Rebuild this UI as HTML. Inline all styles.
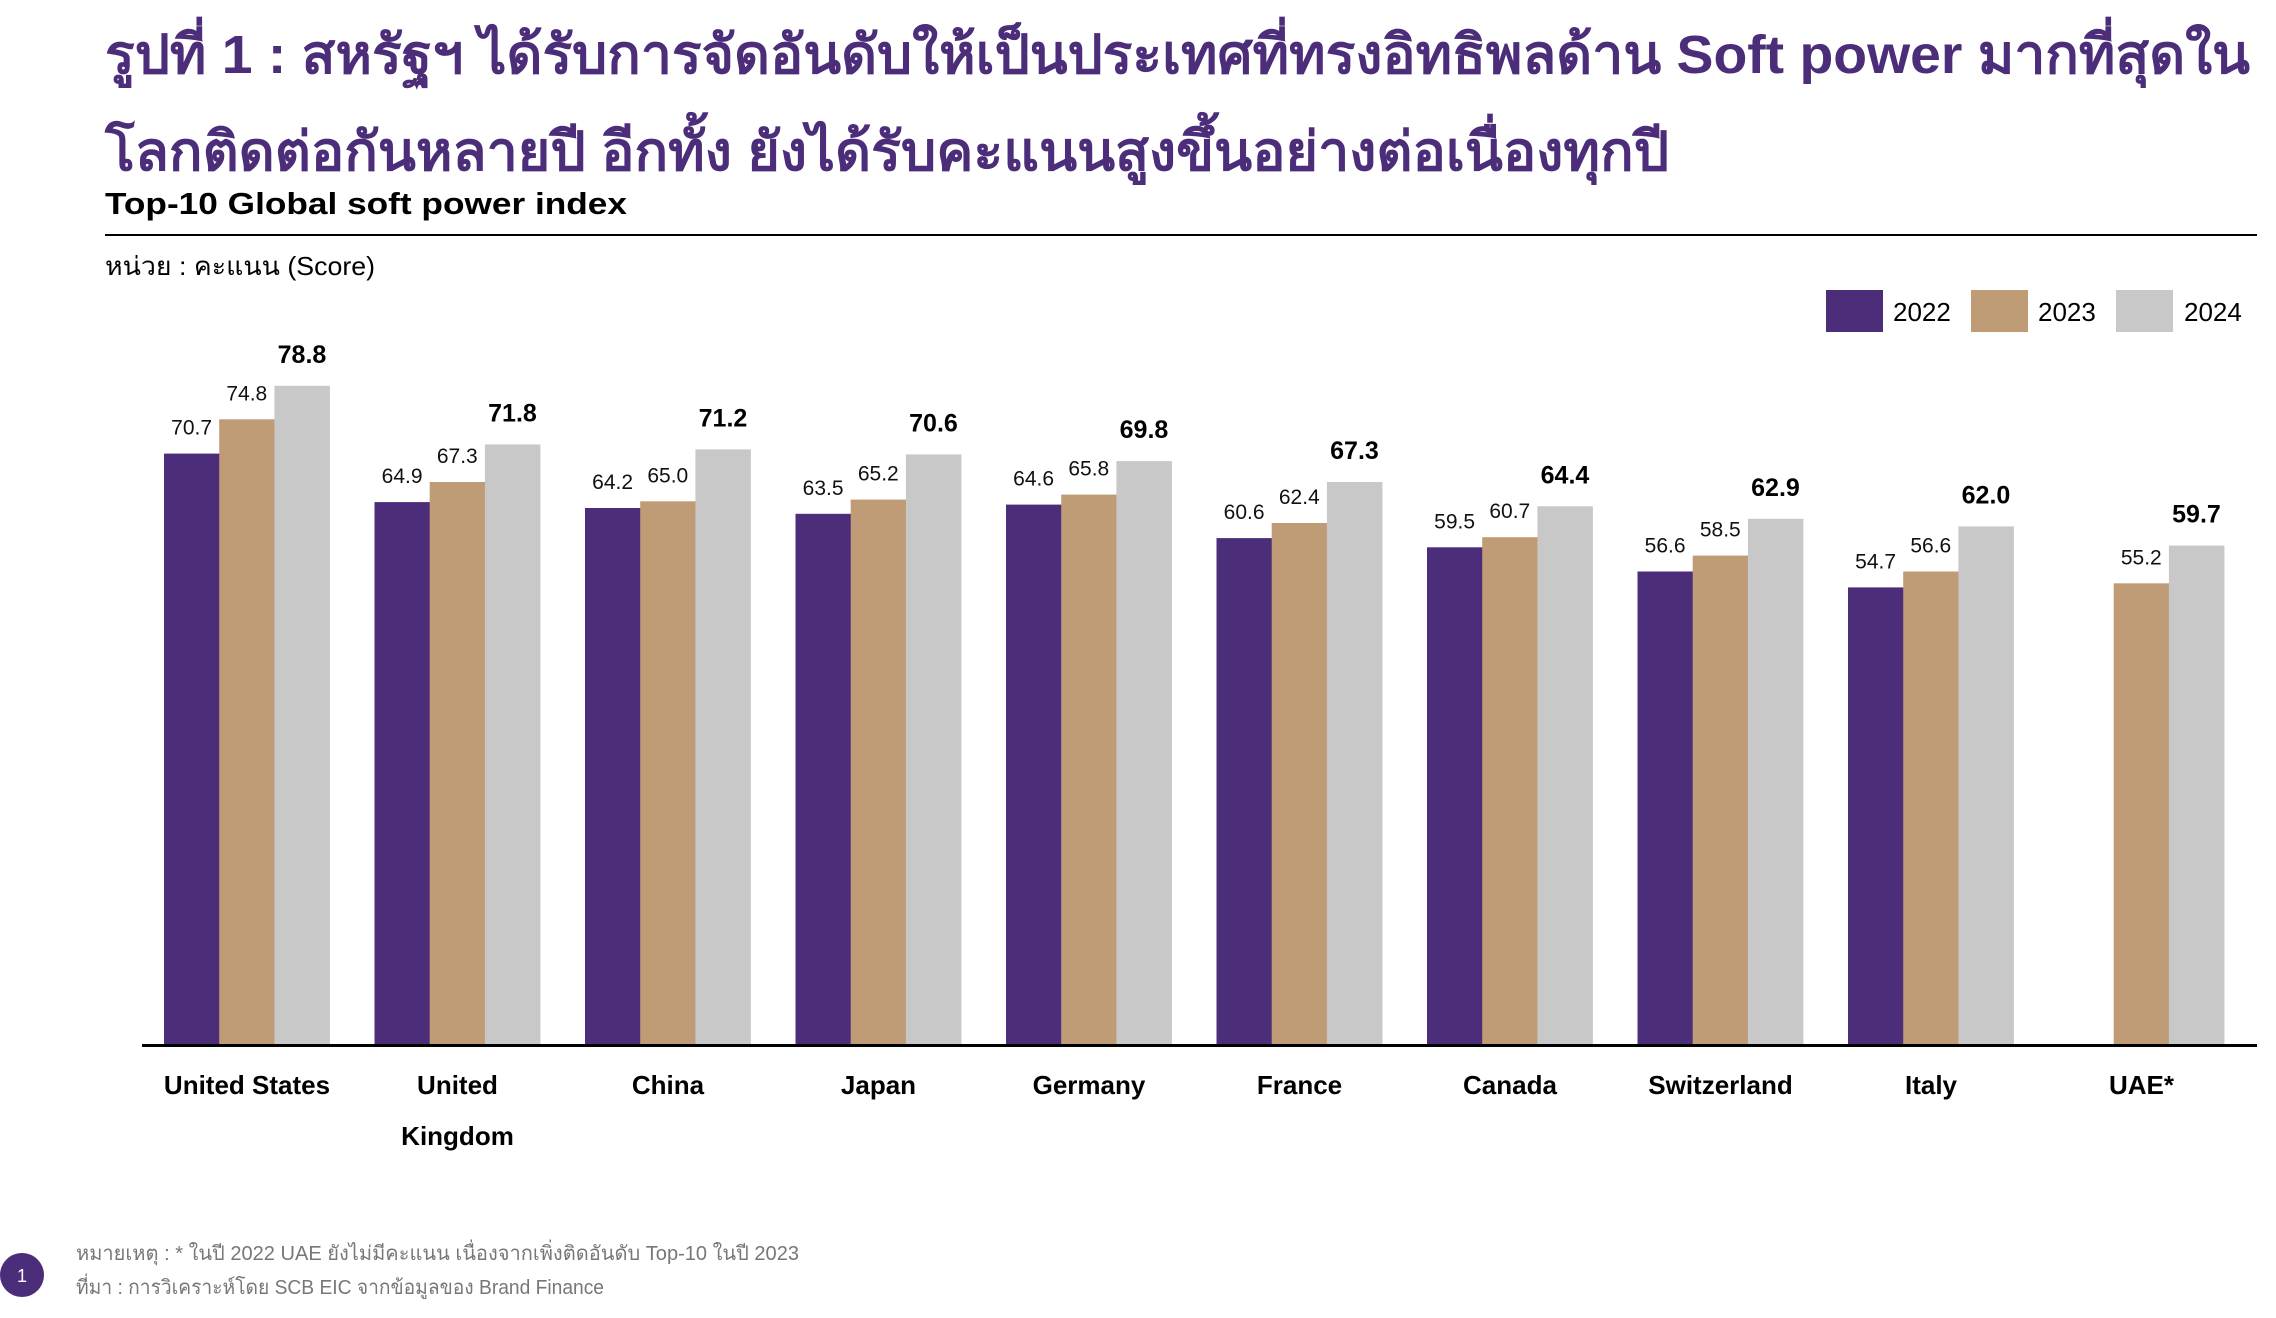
<!DOCTYPE html>
<html><head><meta charset="utf-8"><style>
html,body{margin:0;padding:0;background:#fff}
svg{display:block}
text{font-family:"Liberation Sans","DejaVu Sans","Noto Sans CJK SC",sans-serif}
.v{font-size:21px;fill:#111;text-anchor:middle}
.b{font-size:25px;font-weight:bold;fill:#000;text-anchor:middle}
.c{font-size:26px;font-weight:bold;fill:#000;text-anchor:middle}
</style></head><body>
<svg width="2276" height="1318" viewBox="0 0 2276 1318" xmlns="http://www.w3.org/2000/svg">
<text x="105" y="73" font-size="54" font-weight="bold" fill="#4B2D7A" textLength="2145" lengthAdjust="spacingAndGlyphs">รูปที่ 1 : สหรัฐฯ ได้รับการจัดอันดับให้เป็นประเทศที่ทรงอิทธิพลด้าน Soft power มากที่สุดใน</text>
<text x="105" y="170" font-size="54" font-weight="bold" fill="#4B2D7A" textLength="1564" lengthAdjust="spacingAndGlyphs">โลกติดต่อกันหลายปี อีกทั้ง ยังได้รับคะแนนสูงขึ้นอย่างต่อเนื่องทุกปี</text>
<text x="105" y="214" font-size="31" font-weight="bold" fill="#000" textLength="522" lengthAdjust="spacingAndGlyphs">Top-10 Global soft power index</text>
<rect x="105" y="234" width="2152" height="2" fill="#000"/>
<text x="105" y="275" font-size="26" fill="#000" textLength="270" lengthAdjust="spacingAndGlyphs">หน่วย : คะแนน (Score)</text>
<rect x="1826" y="290" width="57" height="42" fill="#4B2D7A"/><text x="1893" y="321" font-size="26" fill="#000">2022</text>
<rect x="1971" y="290" width="57" height="42" fill="#BF9B76"/><text x="2038" y="321" font-size="26" fill="#000">2023</text>
<rect x="2116" y="290" width="57" height="42" fill="#C8C8C8"/><text x="2184" y="321" font-size="26" fill="#000">2024</text>
<g>
<rect x="164" y="453.6" width="55.5" height="591.4" fill="#4B2D7A"/><rect x="219.2" y="419.3" width="55.5" height="625.7" fill="#BF9B76"/><rect x="274.4" y="385.8" width="55.5" height="659.2" fill="#C8C8C8"/>
<text class="v" x="191.6" y="434.6">70.7</text><text class="v" x="246.8" y="400.3">74.8</text><text class="b" x="302" y="362.8">78.8</text>
<rect x="374.5" y="502.1" width="55.5" height="542.9" fill="#4B2D7A"/><rect x="429.7" y="482" width="55.5" height="563" fill="#BF9B76"/><rect x="484.9" y="444.4" width="55.5" height="600.6" fill="#C8C8C8"/>
<text class="v" x="402.1" y="483.1">64.9</text><text class="v" x="457.3" y="463">67.3</text><text class="b" x="512.5" y="421.4">71.8</text>
<rect x="585" y="508" width="55.5" height="537" fill="#4B2D7A"/><rect x="640.2" y="501.3" width="55.5" height="543.7" fill="#BF9B76"/><rect x="695.4" y="449.4" width="55.5" height="595.6" fill="#C8C8C8"/>
<text class="v" x="612.6" y="489">64.2</text><text class="v" x="667.8" y="482.3">65.0</text><text class="b" x="723" y="426.4">71.2</text>
<rect x="795.5" y="513.8" width="55.5" height="531.2" fill="#4B2D7A"/><rect x="850.7" y="499.6" width="55.5" height="545.4" fill="#BF9B76"/><rect x="905.9" y="454.4" width="55.5" height="590.6" fill="#C8C8C8"/>
<text class="v" x="823.1" y="494.8">63.5</text><text class="v" x="878.3" y="480.6">65.2</text><text class="b" x="933.5" y="431.4">70.6</text>
<rect x="1006" y="504.6" width="55.5" height="540.4" fill="#4B2D7A"/><rect x="1061.2" y="494.6" width="55.5" height="550.4" fill="#BF9B76"/><rect x="1116.4" y="461.1" width="55.5" height="583.9" fill="#C8C8C8"/>
<text class="v" x="1033.6" y="485.6">64.6</text><text class="v" x="1088.8" y="475.6">65.8</text><text class="b" x="1144" y="438.1">69.8</text>
<rect x="1216.5" y="538.1" width="55.5" height="506.9" fill="#4B2D7A"/><rect x="1271.7" y="523" width="55.5" height="522" fill="#BF9B76"/><rect x="1326.9" y="482" width="55.5" height="563" fill="#C8C8C8"/>
<text class="v" x="1244.1" y="519.1">60.6</text><text class="v" x="1299.3" y="504">62.4</text><text class="b" x="1354.5" y="459">67.3</text>
<rect x="1427" y="547.3" width="55.5" height="497.7" fill="#4B2D7A"/><rect x="1482.2" y="537.2" width="55.5" height="507.8" fill="#BF9B76"/><rect x="1537.4" y="506.3" width="55.5" height="538.7" fill="#C8C8C8"/>
<text class="v" x="1454.6" y="528.3">59.5</text><text class="v" x="1509.8" y="518.2">60.7</text><text class="b" x="1565" y="483.3">64.4</text>
<rect x="1637.5" y="571.5" width="55.5" height="473.5" fill="#4B2D7A"/><rect x="1692.7" y="555.6" width="55.5" height="489.4" fill="#BF9B76"/><rect x="1747.9" y="518.8" width="55.5" height="526.2" fill="#C8C8C8"/>
<text class="v" x="1665.1" y="552.5">56.6</text><text class="v" x="1720.3" y="536.6">58.5</text><text class="b" x="1775.5" y="495.8">62.9</text>
<rect x="1848" y="587.4" width="55.5" height="457.6" fill="#4B2D7A"/><rect x="1903.2" y="571.5" width="55.5" height="473.5" fill="#BF9B76"/><rect x="1958.4" y="526.4" width="55.5" height="518.6" fill="#C8C8C8"/>
<text class="v" x="1875.6" y="568.4">54.7</text><text class="v" x="1930.8" y="552.5">56.6</text><text class="b" x="1986" y="503.4">62.0</text>
<rect x="2113.7" y="583.3" width="55.5" height="461.7" fill="#BF9B76"/><rect x="2168.9" y="545.6" width="55.5" height="499.4" fill="#C8C8C8"/>
<text class="v" x="2141.3" y="564.3">55.2</text><text class="b" x="2196.5" y="522.6">59.7</text>
</g>
<rect x="142" y="1044" width="2115" height="3" fill="#000"/>
<text class="c" x="247" y="1094">United States</text>
<text class="c" x="457.5" y="1094">United</text><text class="c" x="457.5" y="1145">Kingdom</text>
<text class="c" x="668" y="1094">China</text>
<text class="c" x="878.5" y="1094">Japan</text>
<text class="c" x="1089" y="1094">Germany</text>
<text class="c" x="1299.5" y="1094">France</text>
<text class="c" x="1510" y="1094">Canada</text>
<text class="c" x="1720.5" y="1094">Switzerland</text>
<text class="c" x="1931" y="1094">Italy</text>
<text class="c" x="2141.5" y="1094">UAE*</text>
<circle cx="22" cy="1275" r="22" fill="#4B2D7A"/>
<text x="22" y="1282" font-size="18" fill="#fff" text-anchor="middle">1</text>
<text x="76" y="1260" font-size="20" fill="#777" textLength="723" lengthAdjust="spacingAndGlyphs">หมายเหตุ : * ในปี 2022 UAE ยังไม่มีคะแนน เนื่องจากเพิ่งติดอันดับ Top-10 ในปี 2023</text>
<text x="76" y="1294" font-size="20" fill="#777" textLength="528" lengthAdjust="spacingAndGlyphs">ที่มา : การวิเคราะห์โดย SCB EIC จากข้อมูลของ Brand Finance</text>
</svg>
</body></html>
